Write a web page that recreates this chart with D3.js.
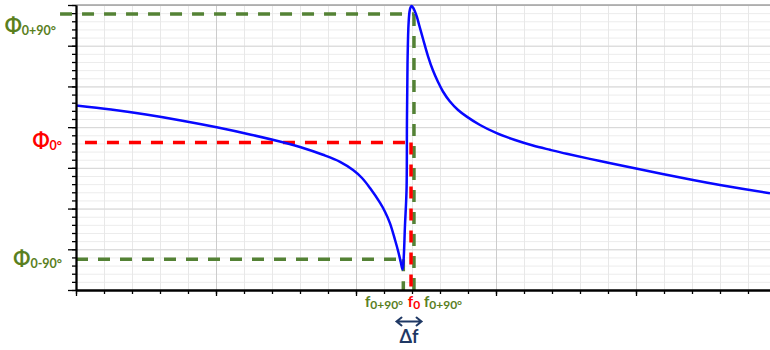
<!DOCTYPE html>
<html>
<head>
<meta charset="utf-8">
<script src="https://cdn.jsdelivr.net/npm/d3@7/dist/d3.min.js"></script>
<style>
  html, body { margin: 0; padding: 0; background: #ffffff; }
  svg { display: block; }
  text { font-family: Lato, "Open Sans", "Liberation Sans", sans-serif; }
</style>
</head>
<body>
<svg id="chart" width="770" height="350"></svg>
<script>
// ---- data (x in frequency units, y in phase units) ----
const freq = [0, 0.25, 0.5, 0.75, 1.005, 1.25, 1.505, 1.6, 1.764, 1.886, 1.979, 2.043, 2.1, 2.171, 2.207, 2.243, 2.279, 2.302, 2.319, 2.332,
  2.339, 2.35, 2.361, 2.364, 2.368, 2.375, 2.382, 2.389, 2.398,
  2.407, 2.418, 2.434, 2.45, 2.479, 2.514, 2.55, 2.586, 2.621, 2.671, 2.729, 2.791, 2.886, 3.005, 3.136, 3.264, 3.386, 3.505,
  3.743, 4.0, 4.407, 4.6, 4.957];
const phase = [4.532, 4.431, 4.308, 4.163, 3.996, 3.814, 3.603, 3.512, 3.321, 3.149, 2.947, 2.751, 2.505, 2.144, 1.923, 1.638, 1.228, 0.941, 0.695, 0.504,
  0.688, 1.597, 2.456, 4.175, 5.575, 6.509, 6.828, 6.939, 6.975,
  6.939, 6.865, 6.718, 6.521, 6.165, 5.747, 5.391, 5.109, 4.875, 4.63, 4.421, 4.259, 4.053, 3.851, 3.684, 3.549, 3.443, 3.345,
  3.168, 2.984, 2.702, 2.579, 2.375];

// reference phase levels and frequencies
const phaseLevels = [6.779, 3.623, 0.754];          // phi 0+90, phi 0, phi 0-90
const phaseLineStart = [-0.114, 0.064, 0];          // where each horizontal dashed line starts (freq units)
const refFreqs = [2.414, 2.393, 2.338];             // f(right green), f0, f(left green)
const phaseLabels = [["Φ", "0+90°"], ["Φ", "0°"], ["Φ", "0-90°"]];
const freqLabels = [["f", "0+90°"], ["f", "0"], ["f", "0+90°"]];
const deltaLabel = "Δf";

const xMajor = [0, 1, 2, 3, 4, 5];
const xMinor = d3.range(0, 5.001, 0.2);
const yMajor = [0, 1, 2, 3, 4, 5, 6, 7];
const yMinor = d3.range(0, 7.001, 0.2);

// ---- layout ----
const svg = d3.select("#chart");
const L = 76, T = 5, B = 290, R = 776;
const x = d3.scaleLinear().domain([0, 5]).range([L, R]);
const y = d3.scaleLinear().domain([0, 7]).range([B, T]);

const GREEN = "#548235", RED = "#ff0000", NAVY = "#1f3864", TXTGREEN = "#5a801e";

// gridlines
function grid(axisGen, color, transform) {
  const g = svg.append("g").attr("transform", transform).call(axisGen);
  g.select(".domain").remove();
  g.selectAll(".tick line").attr("stroke", color).attr("stroke-width", 1);
  g.selectAll(".tick text").remove();
  return g;
}
grid(d3.axisLeft(y).tickValues(yMinor).tickSize(-(R - L)).tickFormat(""), "#ececec", `translate(${L},0)`);
grid(d3.axisBottom(x).tickValues(xMinor).tickSize(-(B - T)).tickFormat(""), "#e8e8e8", `translate(0,${B})`);
grid(d3.axisLeft(y).tickValues(yMajor).tickSize(-(R - L)).tickFormat(""), "#d6d6d6", `translate(${L},0)`);
grid(d3.axisBottom(x).tickValues(xMajor).tickSize(-(B - T)).tickFormat(""), "#cccccc", `translate(0,${B})`);

// top border
svg.append("line").attr("x1", L).attr("x2", 770).attr("y1", y(7)).attr("y2", y(7))
  .attr("stroke", "#a0a0a0").attr("stroke-width", 1.5);

// dashed reference lines
const dashG = svg.append("g").attr("fill", "none").attr("stroke-width", 3.5);
const hColors = [GREEN, RED, GREEN];
const hEnds = [refFreqs[0], refFreqs[1], refFreqs[2]];
phaseLevels.forEach((p, i) => {
  dashG.append("line")
    .attr("x1", x(phaseLineStart[i])).attr("x2", x(hEnds[i]))
    .attr("y1", y(p)).attr("y2", y(p))
    .attr("stroke", hColors[i]).attr("stroke-dasharray", "12,10");
});
const vColors = [GREEN, RED, GREEN];
const vTops = [phaseLevels[0], phaseLevels[1], phaseLevels[2]];
refFreqs.forEach((f, i) => {
  dashG.append("line")
    .attr("x1", x(f)).attr("x2", x(f))
    .attr("y1", y(vTops[i])).attr("y2", y(0))
    .attr("stroke", vColors[i]).attr("stroke-dasharray", "12,10");
});

// curve
const pts = freq.map((f, i) => [f, phase[i]]);
svg.append("path")
  .datum(pts)
  .attr("fill", "none")
  .attr("stroke", "#0808ff")
  .attr("stroke-width", 2.5)
  .attr("stroke-linejoin", "round")
  .attr("d", d3.line().x(d => x(d[0])).y(d => y(d[1])).curve(d3.curveCatmullRom.alpha(0.5)));

// axes with ticks
function tickAxis(axisGen, transform) {
  const g = svg.append("g").attr("transform", transform).call(axisGen);
  g.selectAll(".tick text").remove();
  g.selectAll(".tick line").attr("stroke", "#000").attr("stroke-width", 1.3);
  g.select(".domain").attr("stroke", "#000").attr("stroke-width", 1.8);
  return g;
}
tickAxis(d3.axisLeft(y).tickValues(yMinor).tickSize(4).tickSizeOuter(0).tickFormat(""), `translate(${L},0)`);
tickAxis(d3.axisLeft(y).tickValues(yMajor).tickSize(8).tickSizeOuter(0).tickFormat(""), `translate(${L},0)`);
tickAxis(d3.axisBottom(x).tickValues(xMinor).tickSize(4).tickSizeOuter(0).tickFormat(""), `translate(0,${B})`);
tickAxis(d3.axisBottom(x).tickValues(xMajor).tickSize(6).tickSizeOuter(0).tickFormat(""), `translate(0,${B})`);

// phase labels (left)
const phaseLabelColors = [TXTGREEN, RED, TXTGREEN];
const phaseLabelRight = [56, 62, 62];
const phaseLabelDy = [6.5, 6, 7];
phaseLabels.forEach((lab, i) => {
  const t = svg.append("text")
    .attr("x", phaseLabelRight[i])
    .attr("y", (i === 0 ? y(phaseLevels[0]) + 13 : y(phaseLevels[i])) + phaseLabelDy[i])
    .attr("text-anchor", "end")
    .attr("fill", phaseLabelColors[i])
    .attr("font-weight", "bold");
  t.append("tspan").attr("font-size", 20).text(lab[0]);
  t.append("tspan").attr("font-size", 12.5).attr("dy", 1.5).text(lab[1]);
});

// frequency labels (bottom)
const freqLabelColors = [TXTGREEN, RED, TXTGREEN];
const freqLabelCenters = [384, 414, 443];
freqLabels.forEach((lab, i) => {
  const t = svg.append("text")
    .attr("x", freqLabelCenters[i])
    .attr("y", 307)
    .attr("text-anchor", "middle")
    .attr("fill", freqLabelColors[i])
    .attr("font-weight", "bold");
  t.append("tspan").attr("font-size", 15).text(lab[0]);
  t.append("tspan").attr("font-size", 12).attr("dy", 1.5).text(lab[1]);
});

// delta-f arrow
const ac = x(refFreqs[1]) - 2, ay = 321.5, hw = 12.5;
svg.append("path")
  .attr("d", `M${ac - hw},${ay}L${ac + hw},${ay}M${ac - hw + 5},${ay - 4}L${ac - hw},${ay}L${ac - hw + 5},${ay + 4}M${ac + hw - 5},${ay - 4}L${ac + hw},${ay}L${ac + hw - 5},${ay + 4}`)
  .attr("fill", "none").attr("stroke", NAVY).attr("stroke-width", 2).attr("stroke-linecap", "round");
svg.append("text")
  .attr("x", ac).attr("y", 343)
  .attr("text-anchor", "middle")
  .attr("fill", NAVY).attr("font-weight", "bold").attr("font-size", 18)
  .text(deltaLabel);
</script>
</body>
</html>
